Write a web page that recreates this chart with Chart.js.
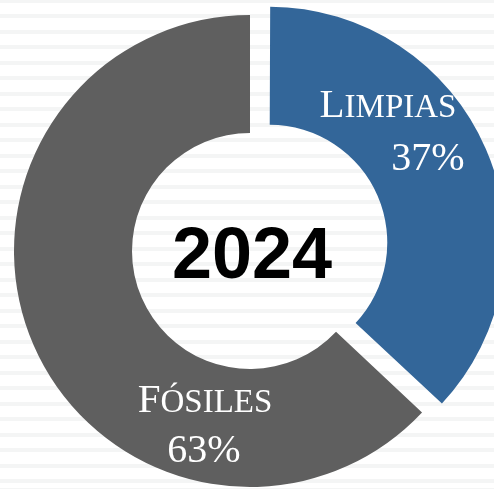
<!DOCTYPE html>
<html>
<head>
<meta charset="utf-8">
<script src="https://cdn.jsdelivr.net/npm/chart.js@4.4.1/dist/chart.umd.min.js"></script>
<style>
  html, body {
    margin: 0;
    padding: 0;
    width: 494px;
    height: 489px;
    overflow: hidden;
    background: repeating-linear-gradient(to bottom, #f4f5f5 0px, #f4f5f5 4px, #ffffff 4px, #ffffff 15.5px);
    background-position: 0 -1px;
  }
  canvas { display: block; }
</style>
</head>
<body>
<canvas id="chartDonut" width="494" height="489"></canvas>
<script>
// datos
var categorias = ['Limpias', 'Fósiles'];
var porcentajes = [37, 63];
var colores = ['#336699', '#5f5f5f'];
var anio = '2024';

// texto en versalitas: primera letra grande, resto pequeño
function versalitas(ctx, palabra, cx, base, grande, chica) {
    var primera = palabra[0].toUpperCase();
    var resto = palabra.slice(1).toUpperCase();
    ctx.font = grande + 'px "Liberation Serif"';
    var w1 = ctx.measureText(primera).width;
    ctx.font = chica + 'px "Liberation Serif"';
    var w2 = ctx.measureText(resto).width;
    var x = cx - (w1 + w2) / 2;
    ctx.textAlign = 'left';
    ctx.font = grande + 'px "Liberation Serif"';
    ctx.fillText(primera, x, base);
    ctx.font = chica + 'px "Liberation Serif"';
    ctx.fillText(resto, x + w1, base);
}

// chart.js agranda el radio del sector desplazado; lo dejamos igual que el resto
var sinCrecer = {
    id: 'sinCrecer',
    afterDatasetsUpdate: function (chart) {
        chart.getDatasetMeta(0).data.forEach(function (arco) {
            var off = (arco.options.offset || 0) / 4;
            if (!off) return;
            var fix = 1 - Math.sin(Math.min(Math.PI, arco.circumference));
            arco.outerRadius -= off * fix;
            arco.innerRadius -= off * fix;
        });
    }
};

var etiquetas = {
    id: 'etiquetas',
    afterDatasetsDraw: function (chart, args, opts) {
        var ctx = chart.ctx;
        var arco = chart.getDatasetMeta(0).data[1];
        var cx = arco.x, cy = arco.y;
        ctx.save();
        ctx.fillStyle = '#000';
        ctx.textAlign = 'center';
        ctx.textBaseline = 'alphabetic';
        ctx.font = 'bold 72px "Liberation Sans"';
        ctx.fillText(anio, cx + 2, cy + 27);

        ctx.fillStyle = '#ffffff';
        opts.pos.forEach(function (p, i) {
            versalitas(ctx, categorias[i], cx + p.nx, cy + p.ny, 41, 33);
            ctx.textAlign = 'center';
            ctx.font = '40px "Liberation Serif"';
            ctx.fillText(porcentajes[i] + '%', cx + p.px, cy + p.py);
        });
        ctx.restore();
    }
};

var ourDonut = document.getElementById('chartDonut');

var donutChart = new Chart(ourDonut, {
    type: 'doughnut',
    data: {
        labels: categorias,
        datasets: [
            {
                data: porcentajes,
                backgroundColor: colores,
                borderWidth: 0,
                // chart.js divide el offset entre 4 al dibujar
                offset: [84, 0],
                hoverOffset: 0,
                clip: false
            }
        ]
    },
    options: {
        responsive: false,
        animation: false,
        events: [],
        radius: 236,
        cutout: '50%',
        layout: {
            padding: { left: 6, top: 13, right: 0, bottom: 0 }
        },
        plugins: {
            legend: { display: false },
            tooltip: { enabled: false },
            etiquetas: {
                pos: [
                    { nx: 138, ny: -134, px: 178, py: -81 },
                    { nx: -45, ny: 161, px: -46, py: 211 }
                ]
            }
        }
    },
    plugins: [sinCrecer, etiquetas]
});
</script>
</body>
</html>
